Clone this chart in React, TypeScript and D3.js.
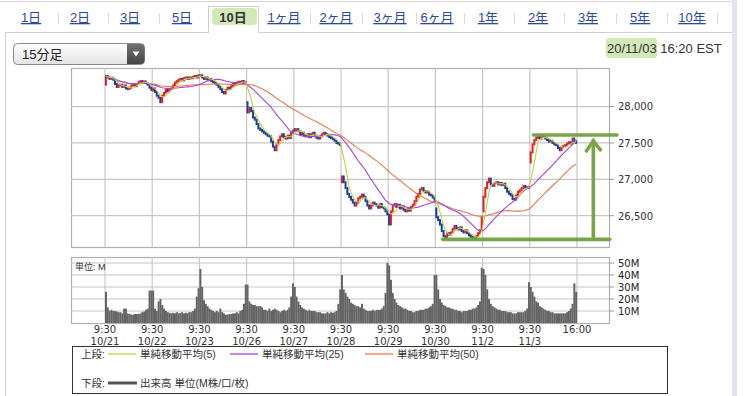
import React from "react";
import * as d3 from "d3";

// ---------- data ----------
const dates = ["10/21", "10/22", "10/23", "10/26", "10/27", "10/28", "10/29", "10/30", "11/2", "11/3"];
const openTime = "9:30";
const closeTime = "16:00";
const dayOpens = [28300, 28220, 28420, 28060, 27690, 26960, 26520, 26600, 26560, 27230];

const close1021 = [28420, 28400, 28380, 28395, 28370, 28310, 28270, 28290, 28300, 28270, 28290, 28250, 28240, 28260, 28290, 28300, 28280, 28310, 28340, 28350, 28330, 28345, 28320, 28300, 28260, 28230];
const close1022 = [28250, 28200, 28150, 28120, 28060, 28150, 28190, 28230, 28210, 28240, 28250, 28290, 28330, 28350, 28370, 28380, 28360, 28390, 28400, 28380, 28400, 28390, 28410, 28420, 28400, 28430];
const close1023 = [28430, 28400, 28380, 28400, 28370, 28380, 28350, 28340, 28320, 28300, 28270, 28240, 28200, 28180, 28230, 28260, 28250, 28280, 28310, 28300, 28330, 28340, 28330, 28350, 28340, 28340];
const close1026 = [27920, 27980, 27940, 27850, 27820, 27760, 27700, 27680, 27660, 27640, 27620, 27600, 27590, 27520, 27450, 27400, 27480, 27540, 27590, 27620, 27580, 27560, 27600, 27570, 27640, 27670];
const close1027 = [27670, 27690, 27660, 27620, 27640, 27600, 27590, 27620, 27580, 27620, 27640, 27600, 27570, 27560, 27590, 27620, 27640, 27620, 27600, 27580, 27570, 27550, 27530, 27500, 27490, 27470];
const close1028 = [27040, 26960, 26880, 26800, 26760, 26720, 26680, 26640, 26680, 26740, 26760, 26790, 26760, 26700, 26640, 26600, 26640, 26680, 26660, 26640, 26610, 26660, 26620, 26600, 26560, 26520];
const close1029 = [26380, 26560, 26640, 26660, 26620, 26650, 26600, 26630, 26580, 26560, 26600, 26570, 26620, 26650, 26700, 26760, 26800, 26860, 26880, 26840, 26820, 26830, 26790, 26780, 26750, 26720];
const close1030 = [26480, 26440, 26380, 26290, 26220, 26200, 26260, 26240, 26270, 26320, 26360, 26330, 26310, 26340, 26290, 26270, 26300, 26260, 26230, 26210, 26190, 26180, 26220, 26260, 26300, 26480];
const close1102 = [26760, 26880, 26960, 27010, 26930, 26910, 26950, 26960, 26930, 26950, 26920, 26940, 26880, 26830, 26800, 26780, 26730, 26720, 26780, 26830, 26850, 26880, 26910, 26890, 26880, 26900];
const close1103 = [27370, 27480, 27540, 27570, 27580, 27560, 27590, 27580, 27560, 27540, 27520, 27530, 27500, 27480, 27470, 27430, 27400, 27440, 27460, 27470, 27490, 27510, 27490, 27560, 27520, 27500];

// volume, millions of shares per 15-minute bar
const vol1021 = [26, 13, 10, 11, 10, 10, 9.5, 9, 9, 8, 12, 12, 8, 7.5, 7, 7, 7.5, 7.5, 7.5, 8, 9, 9.5, 11, 12, 27, 27];
const vol1022 = [27, 12, 10, 18, 20, 15, 12, 10, 9, 8.5, 8, 8.5, 8, 9, 8, 8.5, 9, 8, 8.5, 8, 9, 9, 10, 12, 22, 29];
const vol1023 = [45, 30, 19, 16, 14, 12, 11, 10, 9, 10, 9, 12, 9, 8, 7, 7, 7.5, 7.5, 8, 8, 9, 8, 10, 11, 16, 32];
const vol1026 = [32, 18, 16, 15, 15, 14, 14, 14, 13, 11, 11, 10, 12, 10, 11, 12, 11, 10, 9, 10, 11, 10, 11, 13, 22, 33];
const vol1027 = [30, 22, 18, 15, 13, 12, 11, 10, 11, 10, 10, 10, 9, 9, 9, 8, 8, 8, 9, 8, 9, 8.5, 9, 10, 16, 28];
const vol1028 = [40, 28, 25, 22, 20, 17, 16, 15, 14, 14, 13, 16, 12, 11, 10, 10, 10, 11, 10, 11, 11, 11, 12, 14, 25, 50];
const vol1029 = [48, 36, 25, 20, 17, 15, 14, 13, 12, 12, 11, 10, 10, 9, 9, 10, 10, 11, 11, 11, 12, 12, 13, 14, 16, 40];
const vol1030 = [40, 28, 20, 17, 15, 14, 13, 13, 12, 12, 11, 11, 10, 10, 9, 10, 10, 10, 11, 11, 12, 12, 13, 15, 18, 46];
const vol1102 = [45, 40, 28, 20, 16, 14, 13, 12, 11, 11, 10, 10, 10, 9, 9, 9, 8, 8, 8, 9, 9, 9, 9, 10, 12, 34];
const vol1103 = [30, 26, 22, 18, 17, 14, 13, 12, 11, 10, 10, 9, 9, 8, 8, 8, 8, 8, 8, 8, 9, 10, 12, 16, 33, 26];

const priceTicks = [26500, 27000, 27500, 28000];
const volumeTicks = [10, 20, 30, 40, 50];
const maPeriods = [5, 25, 50];
const maLabels = ["単純移動平均(5)", "単純移動平均(25)", "単純移動平均(50)"];
const volumeLegendLabel = "出来高 単位(M株/口/枚)";
const tabLabels = ["1日", "2日", "3日", "5日", "10日", "1ヶ月", "2ヶ月", "3ヶ月", "6ヶ月", "1年", "2年", "3年", "5年", "10年"];
const activeTab = "10日";
const intervalLabel = "15分足";
const stampDate = "20/11/03";
const stampTime = "16:20 EST";
// hand-drawn range markers (price levels)
const rangeHigh = 27610;
const rangeLow = 26175;

// ---------- layout / style ----------
const W = 749;
const H = 396;
const BARS = 26;
const plotL = 71;
const plotR = 609;
const priceTop = 68;
const priceBot = 247;
const volTop = 257;
const volBot = 323;
const tabCenters = [31, 80, 130, 182, 233, 284, 336, 390, 437, 488, 538, 588, 640, 692];
const tabSeps = [58, 108, 159, 310, 362, 416, 464, 514, 564, 616, 667, 717];
const maColors = ["#bcd43c", "#a644dc", "#e8794f"];
const upColor = "#e41e2a";
const downColor = "#1d3c9c";
const gridColor = "#c6c6c6";
const textColor = "#333";
const linkColor = "#2b4a9c";
const annColor = "#71a13f";
const latin = "'DejaVu Sans', Verdana, sans-serif";
const cjk = "'Liberation Sans', 'Noto Sans CJK JP', sans-serif";

const closes = [close1021, close1022, close1023, close1026, close1027, close1028, close1029, close1030, close1102, close1103].flat();
const volumes = [vol1021, vol1022, vol1023, vol1026, vol1027, vol1028, vol1029, vol1030, vol1102, vol1103].flat();
const opens = closes.map((c, i) => (i % BARS === 0 ? dayOpens[i / BARS] : closes[i - 1]));
const N = closes.length;

function sma(arr: number[], n: number) {
  return arr.map((_, i) => d3.mean(arr.slice(Math.max(0, i - n + 1), i + 1)) as number);
}

const x = d3.scaleLinear().domain([0, N]).range([105, 577]);
const yP = d3.scaleLinear().domain([26070, 28530]).range([priceBot, priceTop]);
const yV = d3.scaleLinear().domain([0, 55]).range([volBot, volTop]);
const step = x(1) - x(0);

export default function App() {
  React.useEffect(() => {
    document.body.style.margin = "0";
  }, []);

  const dayIdx = d3.range(0, dates.length + 1).map((d) => d * BARS);
  const maLines = maPeriods.map((p) => {
    const vals = sma(closes, p);
    return d3
      .line<number>()
      .x((_, i) => x(i + 0.5))
      .y((v) => yP(v))(vals) as string;
  });

  const fmt = d3.format(",");

  return (
    <div style={{ position: "absolute", left: 0, top: 0 }}>
      <svg width={W} height={H} style={{ display: "block", background: "#fff" }}>
        <defs>
          <linearGradient id="selBg" x1="0" y1="0" x2="0" y2="1">
            <stop offset="0" stopColor="#ffffff" />
            <stop offset="1" stopColor="#e2e2e2" />
          </linearGradient>
          <linearGradient id="selBtn" x1="0" y1="0" x2="0" y2="1">
            <stop offset="0" stopColor="#707070" />
            <stop offset="1" stopColor="#444" />
          </linearGradient>
        </defs>

        {/* outer frame */}
        <line x1={0} x2={734} y1={1.5} y2={1.5} stroke="#d4d4d4" />
        <rect x={732} y={0} width={5} height={H} fill="#e3e3ef" />
        <line x1={5.5} x2={5.5} y1={32} y2={H} stroke="#cfcfcf" />
        <line x1={5} x2={208} y1={32.5} y2={32.5} stroke="#cfcfcf" />
        <line x1={259} x2={732} y1={32.5} y2={32.5} stroke="#cfcfcf" />

        {/* tabs */}
        <path d="M208.5,33 V6.5 H258.5 V33" fill="#fff" stroke="#cfcfcf" />
        {tabSeps.map((s, i) => (
          <line key={i} x1={s + 0.5} x2={s + 0.5} y1={13} y2={24} stroke="#dadada" />
        ))}
        {tabLabels.map((t, i) => {
          const active = t === activeTab;
          return (
            <g key={t}>
              {active && <rect x={212} y={8} width={45} height={17} rx={4} fill="#d2e8b8" />}
              <text
                x={tabCenters[i]}
                y={22}
                textAnchor="middle"
                fontFamily={cjk}
                fontSize={13}
                fontWeight={active ? "bold" : "normal"}
                fill={active ? "#333" : linkColor}
                textDecoration={active ? "none" : "underline"}
              >
                {t}
              </text>
            </g>
          );
        })}

        {/* interval selector */}
        <rect x={13.5} y={43.5} width={131} height={21} rx={4} fill="url(#selBg)" stroke="#8a8a8a" />
        <path d="M127,44 H140.5 A4,4 0 0 1 144.5,48 V60 A4,4 0 0 1 140.5,64 H127 Z" fill="url(#selBtn)" />
        <path d="M132.5,51.5 L139.5,51.5 L136,56.5 Z" fill="#fff" />
        <text x={22} y={59} fontFamily={cjk} fontSize={13} fill="#222">
          {intervalLabel}
        </text>

        {/* timestamp */}
        <rect x={606} y={38} width={51} height={20} rx={3} fill="#d2e8b8" />
        <text x={607} y={53} fontFamily={cjk} fontSize={13} fill="#333">
          {stampDate} {stampTime}
        </text>

        {/* price panel grid */}
        <rect x={plotL + 0.5} y={priceTop + 0.5} width={plotR - plotL} height={priceBot - priceTop} fill="#fff" stroke="#b0b0b0" strokeWidth={1.2} />
        {priceTicks.map((t) => (
          <g key={t}>
            <line x1={plotL} x2={plotR} y1={yP(t)} y2={yP(t)} stroke={gridColor} strokeWidth={1.2} />
            <line x1={plotR} x2={plotR + 5} y1={yP(t)} y2={yP(t)} stroke="#999" />
            <text x={plotR + 9} y={yP(t) + 3.8} fontFamily={latin} fontSize={10} fill={textColor}>
              {fmt(t)}
            </text>
          </g>
        ))}
        {dayIdx.map((i) => (
          <line key={i} x1={x(i)} x2={x(i)} y1={priceTop} y2={priceBot} stroke={gridColor} strokeWidth={1.2} />
        ))}

        {/* candles */}
        {closes.map((c, i) => {
          const o = opens[i];
          const top = yP(Math.max(o, c));
          const bot = yP(Math.min(o, c));
          return (
            <rect
              key={i}
              x={x(i) - 0.1}
              y={top - 1}
              width={step + 0.2}
              height={Math.max(2.2, bot - top + 2)}
              fill={c >= o ? upColor : downColor}
            />
          );
        })}

        {/* moving averages */}
        {maLines
          .slice()
          .reverse()
          .map((d, k) => (
            <path key={k} d={d} fill="none" stroke={maColors[maLines.length - 1 - k]} strokeWidth={1.1} />
          ))}

        {/* hand-drawn range markers */}
        <g stroke={annColor} strokeWidth={3.6} strokeLinecap="round" fill="none" opacity={0.95}>
          <line x1={x(236)} x2={x(282)} y1={yP(rangeHigh)} y2={yP(rangeHigh)} />
          <line x1={x(186)} x2={x(278)} y1={yP(rangeLow)} y2={yP(rangeLow)} />
          <line x1={x(269)} x2={x(269)} y1={yP(rangeLow) - 3} y2={yP(rangeHigh) + 5} />
          <polyline
            points={`${x(269) - 7},${yP(rangeHigh) + 16} ${x(269)},${yP(rangeHigh) + 6} ${x(269) + 7},${yP(rangeHigh) + 15}`}
            strokeLinejoin="round"
          />
        </g>

        {/* volume panel */}
        <rect x={plotL + 0.5} y={volTop + 0.5} width={plotR - plotL} height={volBot - volTop} fill="#fff" stroke="#b0b0b0" strokeWidth={1.2} />
        {volumeTicks.map((t) => (
          <g key={t}>
            <line x1={plotL} x2={plotR} y1={yV(t)} y2={yV(t)} stroke={gridColor} strokeWidth={1.1} />
            <line x1={plotR} x2={plotR + 5} y1={yV(t)} y2={yV(t)} stroke="#999" />
            <text x={plotR + 9} y={yV(t) + 3.6} fontFamily={latin} fontSize={10} fill="#222">
              {t}M
            </text>
          </g>
        ))}
        {dayIdx.map((i) => (
          <line key={i} x1={x(i)} x2={x(i)} y1={volTop} y2={volBot} stroke={gridColor} strokeWidth={1.1} />
        ))}
        {volumes.map((v, i) => (
          <rect key={i} x={x(i)} y={yV(v)} width={step + 0.15} height={yV(0) - yV(v)} fill="#646464" />
        ))}
        <text x={75} y={270} fontFamily={cjk} fontSize={9} fill="#333">
          単位: M
        </text>

        {/* x axis labels */}
        {dayIdx.map((i, k) => (
          <g key={i} fontFamily={latin} fontSize={10} fill={textColor} textAnchor="middle">
            <text x={x(i)} y={333}>
              {k < dates.length ? openTime : closeTime}
            </text>
            {k < dates.length && (
              <text x={x(i)} y={345}>
                {dates[k]}
              </text>
            )}
          </g>
        ))}

        {/* legend */}
        <rect x={72.5} y={346.5} width={595} height={47} fill="#fff" stroke="#333" />
        <g fontFamily={cjk} fontSize={10.5} fill={textColor}>
          <text x={81} y={358}>上段:</text>
          {maLabels.map((l, k) => {
            const lx = [108, 230, 365][k];
            return (
              <g key={l}>
                <line x1={lx} x2={lx + 28} y1={354} y2={354} stroke={maColors[k]} strokeWidth={1.3} />
                <text x={lx + 32} y={358}>{l}</text>
              </g>
            );
          })}
          <text x={81} y={387}>下段:</text>
          <line x1={108} x2={137} y1={383} y2={383} stroke="#555" strokeWidth={3} />
          <text x={140} y={387}>{volumeLegendLabel}</text>
        </g>
      </svg>
    </div>
  );
}
